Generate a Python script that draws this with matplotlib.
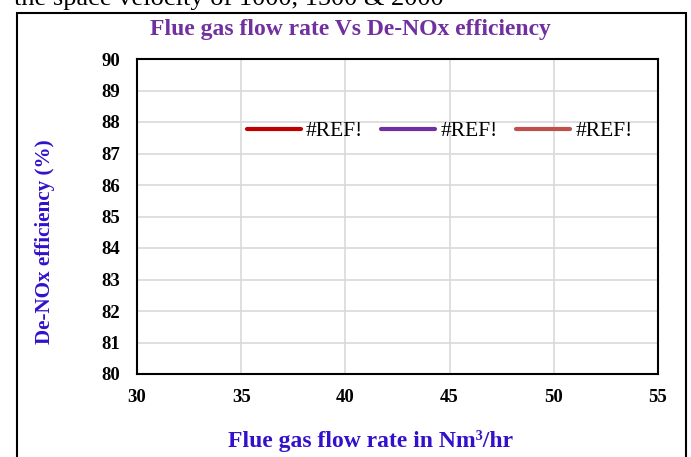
import matplotlib.pyplot as plt
from matplotlib.patches import Rectangle

# Chart data (series are broken #REF! links in the source, so no points)
flow_rate = []
series_names = ['#REF!', '#REF!', '#REF!']
series_colors = ['#C00000', '#7030A0', '#C0504D']
series_values = [[], [], []]

x_ticks = [30, 35, 40, 45, 50, 55]
y_ticks = [80, 81, 82, 83, 84, 85, 86, 87, 88, 89, 90]

plt.rcParams['font.family'] = ['Liberation Serif', 'DejaVu Serif']

fig = plt.figure(figsize=(6.91, 4.57), dpi=100)
W, H = 691, 457
ax = fig.add_axes([137 / W, 1 - 374 / H, (658 - 137) / W, (374 - 59) / H])

for name, col, vals in zip(series_names, series_colors, series_values):
    ax.plot(flow_rate, vals, color=col, lw=3, solid_capstyle='round', label=name)

ax.set_xlim(30, 55)
ax.set_ylim(80, 90)
ax.set_xticks(x_ticks)
ax.set_yticks(y_ticks)
ax.grid(True, color='#D9D9D9', lw=1.2)
ax.set_axisbelow(True)
ax.tick_params(length=0, labelsize=13.5)
ax.tick_params(axis='y', pad=12)
ax.tick_params(axis='x', pad=11)
for lbl in ax.get_xticklabels() + ax.get_yticklabels():
    lbl.set_fontweight('bold')
for sp in ax.spines.values():
    sp.set_linewidth(1.5)
    sp.set_color('black')

ax.legend(loc='center', bbox_to_anchor=(0.581, 0.771), ncol=3, frameon=False,
          fontsize=15.5, handlelength=2.5, handletextpad=0.25, columnspacing=0.85)

fig.text(350 / W, 1 - 30 / H, 'Flue gas flow rate Vs De-NOx efficiency',
         ha='center', va='center', color='#7030A0', fontsize=17, fontweight='bold')
fig.text(371 / W, 1 - 441 / H, 'Flue gas flow rate in Nm\u00b3/hr',
         ha='center', va='center', color='#3311CC', fontsize=17, fontweight='bold')
fig.text(45 / W, 1 - 242 / H, 'De-NOx efficiency (%)', rotation=90,
         ha='center', va='center', color='#3311CC', fontsize=15.2, fontweight='bold')

# caption text cut at the top of the crop
fig.text(14 / W, 1 - 5 / H, 'the space velocity of 1000, 1500 & 2000',
         ha='left', va='baseline', fontsize=19, color='black')

# outer chart border
fig.patches.append(Rectangle((17 / W, -0.05), (686 - 17) / W, (457 - 13) / H + 0.05,
                             transform=fig.transFigure, fill=False, lw=1.5, ec='black'))

fig.savefig('out.png', dpi=100)
